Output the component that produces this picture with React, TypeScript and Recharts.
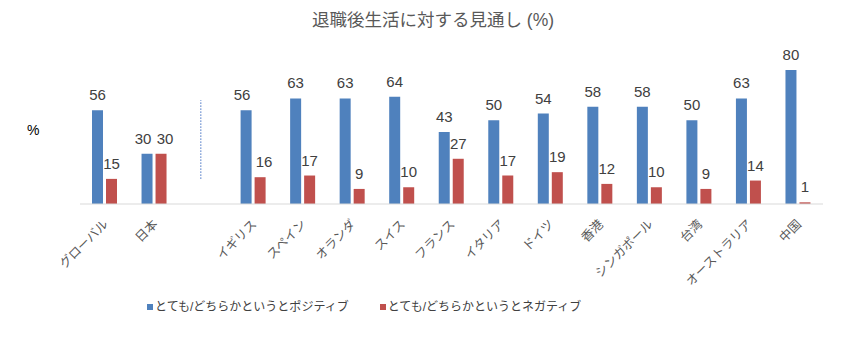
import { Bar, BarChart, LabelList, Legend, ReferenceLine, XAxis, YAxis } from "recharts";

const categories = [
  "グローバル",
  "日本",
  "",
  "イギリス",
  "スペイン",
  "オランダ",
  "スイス",
  "フランス",
  "イタリア",
  "ドイツ",
  "香港",
  "シンガポール",
  "台湾",
  "オーストラリア",
  "中国",
];
const positive = [56, 30, null, 56, 63, 63, 64, 43, 50, 54, 58, 58, 50, 63, 80];
const negative = [15, 30, null, 16, 17, 9, 10, 27, 17, 19, 12, 10, 9, 14, 1];
const seriesNames = ["とても/どちらかというとポジティブ", "とても/どちらかというとネガティブ"];
const title = "退職後生活に対する見通し (%)";
const dividerRange = [15, 62];

const BLUE = "#4f81bd";
const RED = "#c0504d";
const FONT = "'Liberation Sans', 'Noto Sans CJK JP', sans-serif";

const data = categories.map((name, i) => ({
  name,
  pos: positive[i],
  neg: negative[i],
}));

function CategoryTick({ x, y, payload }: any) {
  const ax = x + 4;
  const ay = y + 13;
  return (
    <text
      x={ax}
      y={ay}
      transform={`rotate(-45, ${ax}, ${ay})`}
      textAnchor="end"
      fontSize={12.5}
      fill="#595959"
      fontFamily={FONT}
    >
      {payload.value}
    </text>
  );
}

// value labels; when both bars of a group are equal, push the two labels apart a little
function makeLabel(side: number) {
  return function ValueLabel({ x, y, width, value, index }: any) {
    if (value == null) return null;
    const tie = positive[index] === negative[index];
    const cx = x + width / 2 + (tie ? side * 4 : 0);
    return (
      <text
        x={cx}
        y={y - 10}
        textAnchor="middle"
        fontSize={15}
        fill="#404040"
        fontFamily={FONT}
      >
        {value}
      </text>
    );
  };
}

function LegendContent() {
  const colors = [BLUE, RED];
  return (
    <div
      style={{
        display: "flex",
        justifyContent: "flex-start",
        gap: 31,
        fontFamily: FONT,
        fontSize: 12,
        color: "#404040",
        lineHeight: "14px",
        marginLeft: 67,
        marginTop: 1,
      }}
    >
      {seriesNames.map((n, i) => (
        <span key={n} style={{ display: "flex", alignItems: "center" }}>
          <span
            style={{
              width: 6,
              height: 6,
              background: colors[i],
              display: "inline-block",
              marginRight: 2,
            }}
          />
          {n}
        </span>
      ))}
    </div>
  );
}

export default function App() {
  return (
    <div
      style={{
        position: "absolute",
        left: 0,
        top: 0,
        width: 859,
        height: 339,
        background: "#fff",
        fontFamily: FONT,
      }}
    >
      <div
        style={{
          position: "absolute",
          top: 6,
          left: 0,
          width: 866,
          textAlign: "center",
          fontSize: 17.5,
          color: "#595959",
          fontFamily: FONT,
        }}
      >
        {title}
      </div>
      <div
        style={{
          position: "absolute",
          top: 122,
          left: 27,
          fontSize: 14,
          color: "#000",
        }}
      >
        %
      </div>
      <BarChart
        width={859}
        height={339}
        data={data}
        margin={{ top: 70, right: 36, left: 80, bottom: 0 }}
        barGap={3}
        barSize={11}
      >
        <XAxis
          dataKey="name"
          interval={0}
          tickLine={false}
          axisLine={{ stroke: "#d9d9d9" }}
          tick={<CategoryTick />}
          height={95}
        />
        <YAxis hide domain={[0, 80]} />
        <ReferenceLine
          segment={[
            { x: "", y: dividerRange[0] },
            { x: "", y: dividerRange[1] },
          ]}
          stroke="#4472c4"
          strokeDasharray="1.5 1.5"
          strokeWidth={1}
          transform="translate(-3, 0)"
        />
        <Legend verticalAlign="bottom" height={40} content={<LegendContent />} />
        <Bar dataKey="pos" name={seriesNames[0]} fill={BLUE} isAnimationActive={false}>
          <LabelList dataKey="pos" content={makeLabel(-1)} />
        </Bar>
        <Bar dataKey="neg" name={seriesNames[1]} fill={RED} isAnimationActive={false}>
          <LabelList dataKey="neg" content={makeLabel(1)} />
        </Bar>
      </BarChart>
    </div>
  );
}
